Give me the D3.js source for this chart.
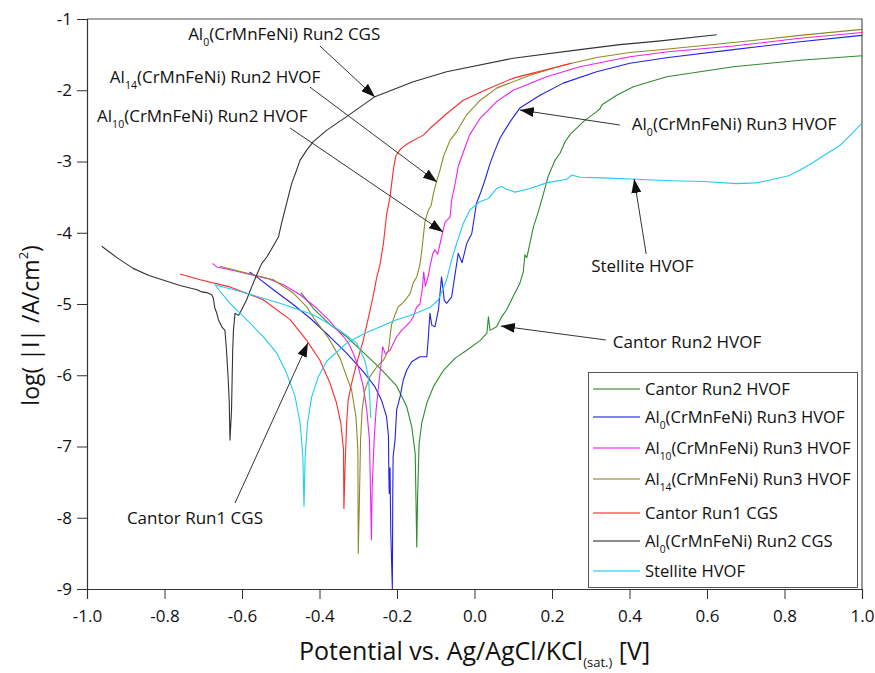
<!DOCTYPE html>
<html>
<head>
<meta charset="utf-8">
<script src="https://cdn.jsdelivr.net/npm/d3@7"></script>
<style>
  body { margin: 0; background: #fff; }
  text { font-family: "Open Sans", "DejaVu Sans", sans-serif; fill: #111; }
</style>
</head>
<body>
<script>
// potential (V vs Ag/AgCl) , log(|I|/A/cm2)

var cantorRun2HVOF = [
 [-0.448,-4.84],[-0.416,-5.06],[-0.373,-5.29],[-0.33,-5.46],[-0.287,-5.68],[-0.244,-5.90],[-0.201,-6.15],
 [-0.175,-6.44],[-0.162,-6.72],[-0.153,-7.10],[-0.149,-8.41],[-0.147,-7.75],[-0.143,-6.96],[-0.136,-6.67],
 [-0.123,-6.39],[-0.106,-6.16],[-0.08,-5.93],[-0.05,-5.76],[-0.02,-5.65],[0.015,-5.51],[0.032,-5.41],
 [0.036,-5.18],[0.04,-5.37],[0.057,-5.32],[0.07,-5.18],[0.083,-5.08],[0.1,-4.89],[0.117,-4.71],[0.126,-4.55],
 [0.13,-4.31],[0.135,-4.35],[0.152,-3.92],[0.165,-3.70],[0.178,-3.45],[0.19,-3.21],[0.208,-2.98],[0.221,-2.88],
 [0.234,-2.72],[0.247,-2.62],[0.281,-2.44],[0.315,-2.30],[0.324,-2.26],[0.328,-2.21],[0.333,-2.19],
 [0.367,-2.07],[0.41,-1.95],[0.496,-1.81],[0.668,-1.67],[0.84,-1.58],[1.0,-1.515]
];

var al0Run3HVOF = [
 [-0.581,-4.55],[-0.562,-4.62],[-0.519,-4.80],[-0.467,-5.01],[-0.424,-5.20],[-0.373,-5.46],[-0.33,-5.69],
 [-0.287,-5.95],[-0.257,-6.16],[-0.24,-6.35],[-0.227,-6.58],[-0.222,-6.86],[-0.221,-7.40],[-0.22,-7.66],
 [-0.218,-7.30],[-0.216,-8.22],[-0.212,-9.0],[-0.211,-7.75],[-0.21,-7.14],[-0.205,-6.91],[-0.201,-6.49],
 [-0.192,-6.30],[-0.184,-6.07],[-0.175,-5.93],[-0.162,-5.81],[-0.141,-5.74],[-0.123,-5.74],[-0.119,-5.46],
 [-0.115,-5.13],[-0.11,-5.30],[-0.102,-5.32],[-0.093,-5.08],[-0.085,-4.62],[-0.078,-4.95],[-0.072,-4.99],
 [-0.059,-4.90],[-0.042,-4.29],[-0.032,-4.42],[-0.02,-4.15],[-0.007,-4.01],[0.005,-3.59],[0.015,-3.45],
 [0.027,-3.26],[0.04,-3.03],[0.053,-2.84],[0.066,-2.67],[0.092,-2.44],[0.117,-2.25],[0.169,-2.07],
 [0.229,-1.90],[0.315,-1.74],[0.401,-1.62],[0.5,-1.54],[0.668,-1.43],[0.84,-1.32],[1.0,-1.23]
];

var al10Run3HVOF = [
 [-0.676,-4.43],[-0.665,-4.48],[-0.622,-4.53],[-0.536,-4.64],[-0.493,-4.73],[-0.45,-4.87],[-0.407,-5.06],
 [-0.377,-5.22],[-0.338,-5.46],[-0.325,-5.55],[-0.313,-5.69],[-0.30,-5.88],[-0.287,-6.16],[-0.278,-6.49],
 [-0.271,-6.91],[-0.266,-8.31],[-0.264,-7.56],[-0.259,-6.91],[-0.254,-6.49],[-0.246,-6.07],[-0.24,-5.79],
 [-0.237,-5.60],[-0.23,-5.70],[-0.218,-5.65],[-0.201,-5.46],[-0.188,-5.37],[-0.166,-5.25],[-0.158,-5.18],
 [-0.15,-5.05],[-0.141,-5.0],[-0.135,-4.80],[-0.131,-4.55],[-0.127,-4.75],[-0.12,-4.62],[-0.115,-4.48],
 [-0.108,-4.30],[-0.102,-4.24],[-0.095,-4.30],[-0.085,-4.06],[-0.076,-3.85],[-0.063,-3.78],[-0.059,-3.54],
 [-0.05,-3.31],[-0.042,-3.07],[-0.029,-2.87],[-0.013,-2.63],[0.015,-2.39],[0.057,-2.16],[0.1,-2.0],
 [0.186,-1.81],[0.272,-1.67],[0.401,-1.53],[0.5,-1.46],[0.668,-1.38],[0.84,-1.27],[1.0,-1.19]
];

var al14Run3HVOF = [
 [-0.657,-4.47],[-0.622,-4.52],[-0.571,-4.59],[-0.519,-4.66],[-0.467,-4.85],[-0.433,-5.04],[-0.412,-5.22],
 [-0.38,-5.45],[-0.347,-5.76],[-0.33,-6.02],[-0.317,-6.21],[-0.306,-6.58],[-0.301,-7.05],[-0.30,-8.50],
 [-0.297,-7.75],[-0.294,-6.91],[-0.29,-6.49],[-0.283,-6.21],[-0.27,-6.02],[-0.252,-5.88],[-0.235,-5.79],
 [-0.222,-5.65],[-0.218,-5.46],[-0.214,-5.29],[-0.205,-5.15],[-0.197,-5.04],[-0.188,-5.0],[-0.175,-4.92],
 [-0.166,-4.85],[-0.158,-4.70],[-0.149,-4.62],[-0.141,-4.45],[-0.136,-4.25],[-0.128,-3.85],[-0.119,-3.68],
 [-0.112,-3.62],[-0.106,-3.45],[-0.098,-3.28],[-0.089,-3.12],[-0.08,-2.93],[-0.063,-2.70],[-0.046,-2.58],
 [-0.021,-2.35],[0.015,-2.14],[0.057,-1.97],[0.143,-1.79],[0.229,-1.65],[0.315,-1.54],[0.401,-1.47],
 [0.5,-1.42],[0.668,-1.33],[0.84,-1.23],[1.0,-1.145]
];

var cantorRun1CGS = [
 [-0.76,-4.58],[-0.708,-4.66],[-0.631,-4.76],[-0.545,-4.94],[-0.476,-5.22],[-0.433,-5.51],[-0.399,-5.79],
 [-0.373,-6.11],[-0.356,-6.39],[-0.345,-6.67],[-0.338,-7.05],[-0.337,-7.87],[-0.334,-7.28],[-0.33,-6.67],
 [-0.326,-6.35],[-0.317,-6.11],[-0.304,-5.83],[-0.287,-5.51],[-0.27,-5.10],[-0.262,-4.90],[-0.252,-4.62],
 [-0.244,-4.45],[-0.235,-4.15],[-0.227,-3.75],[-0.218,-3.50],[-0.209,-3.10],[-0.203,-2.92],[-0.19,-2.82],
 [-0.17,-2.74],[-0.132,-2.63],[-0.114,-2.53],[-0.072,-2.33],[-0.029,-2.14],[0.031,-1.99],[0.1,-1.83],
 [0.143,-1.77],[0.2,-1.69],[0.25,-1.62]
];

var al0Run2CGS = [
 [-0.962,-4.19],[-0.92,-4.36],[-0.881,-4.50],[-0.84,-4.60],[-0.794,-4.68],[-0.76,-4.74],[-0.716,-4.80],
 [-0.704,-4.83],[-0.691,-4.84],[-0.678,-4.87],[-0.674,-4.92],[-0.67,-5.06],[-0.665,-5.13],[-0.661,-5.22],
 [-0.652,-5.32],[-0.644,-5.37],[-0.64,-5.65],[-0.636,-6.02],[-0.633,-6.35],[-0.631,-6.91],[-0.627,-6.49],
 [-0.624,-5.65],[-0.622,-5.37],[-0.618,-5.13],[-0.609,-5.16],[-0.601,-5.08],[-0.588,-4.94],[-0.575,-4.76],
 [-0.562,-4.59],[-0.549,-4.43],[-0.536,-4.34],[-0.523,-4.22],[-0.506,-4.06],[-0.498,-3.87],[-0.485,-3.59],
 [-0.472,-3.31],[-0.459,-3.12],[-0.45,-2.98],[-0.433,-2.84],[-0.416,-2.72],[-0.381,-2.56],[-0.33,-2.37],
 [-0.257,-2.09],[-0.158,-1.88],[-0.072,-1.74],[0.1,-1.55],[0.272,-1.43],[0.375,-1.36],[0.474,-1.31],
 [0.625,-1.22]
];

var stelliteHVOF = [
 [-0.268,-6.60],[-0.27,-6.35],[-0.274,-6.02],[-0.283,-5.79],[-0.304,-5.55],[-0.347,-5.37],[-0.416,-5.15],
 [-0.502,-4.99],[-0.588,-4.85],[-0.67,-4.73],[-0.631,-4.99],[-0.588,-5.22],[-0.545,-5.46],[-0.51,-5.69],
 [-0.485,-5.97],[-0.463,-6.30],[-0.45,-6.67],[-0.443,-7.14],[-0.44,-7.84],[-0.437,-7.14],[-0.431,-6.67],
 [-0.42,-6.30],[-0.403,-6.02],[-0.381,-5.80],[-0.33,-5.55],[-0.287,-5.42],[-0.201,-5.22],[-0.166,-5.16],
 [-0.115,-5.05],[-0.093,-4.94],[-0.072,-4.66],[-0.059,-4.38],[-0.046,-4.15],[-0.029,-3.87],[-0.012,-3.68],
 [0.015,-3.56],[0.036,-3.52],[0.057,-3.38],[0.07,-3.35],[0.083,-3.39],[0.105,-3.43],[0.143,-3.38],
 [0.186,-3.30],[0.238,-3.25],[0.251,-3.19],[0.272,-3.22],[0.331,-3.23],[0.418,-3.25],[0.506,-3.27],
 [0.593,-3.28],[0.676,-3.31],[0.724,-3.30],[0.754,-3.27],[0.811,-3.20],[0.84,-3.12],[0.872,-3.02],
 [0.9,-2.92],[0.942,-2.78],[0.97,-2.63],[1.0,-2.46]
];

var seriesNames = ["Cantor Run2 HVOF", "Al{0}(CrMnFeNi) Run3 HVOF", "Al{10}(CrMnFeNi) Run3 HVOF",
  "Al{14}(CrMnFeNi) Run3 HVOF", "Cantor Run1 CGS", "Al{0}(CrMnFeNi) Run2 CGS", "Stellite HVOF"];
var seriesData = [cantorRun2HVOF, al0Run3HVOF, al10Run3HVOF, al14Run3HVOF, cantorRun1CGS, al0Run2CGS, stelliteHVOF];
var seriesColors = ["#2e8b2e", "#2222e6", "#ee22ee", "#8c8a26", "#ff2a2a", "#333333", "#22ccee"];

var xTicks = d3.range(-10, 11, 2).map(function(i) { return i / 10; });
var yTicks = d3.range(-9, 0);

// annotations: label position, arrow tail, arrow head (data units)
var notes = [
  {text: "Al{0}(CrMnFeNi) Run2 CGS",  at: [-0.739, -1.295], from: [-0.399, -1.379], to: [-0.257, -2.095]},
  {text: "Al{14}(CrMnFeNi) Run2 HVOF", at: [-0.941, -1.898], from: [-0.425, -1.954], to: [-0.097, -3.288]},
  {text: "Al{10}(CrMnFeNi) Run2 HVOF", at: [-0.974, -2.446], from: [-0.476, -2.530], to: [-0.081, -3.989]},
  {text: "Al{0}(CrMnFeNi) Run3 HVOF",  at: [0.406, -2.558],  from: [0.375, -2.488],  to: [0.117, -2.277]},
  {text: "Stellite HVOF",             at: [0.301, -4.551],  from: [0.443, -4.298],  to: [0.412, -3.246]},
  {text: "Cantor Run2 HVOF",          at: [0.357, -5.618],  from: [0.339, -5.505],  to: [0.068, -5.309]},
  {text: "Cantor Run1 CGS",           at: [-0.897, -8.088], from: [-0.618, -7.793], to: [-0.430, -5.547]}
];

var width = 875, height = 673;
var margin = {top: 19, right: 13, bottom: 84, left: 87};
var fs = 17;

var svg = d3.select("body").append("svg")
    .attr("width", width)
    .attr("height", height);

var x = d3.scaleLinear().domain([-1, 1]).range([margin.left, width - margin.right]);
var y = d3.scaleLinear().domain([-9, -1]).range([height - margin.bottom, margin.top]);

// writes "Al{0}(..)" with the braces part as subscript
function rich(sel, str, size) {
  var parts = str.split(/(\{[^}]*\})/);
  var down = false;
  parts.forEach(function(p) {
    if (!p) return;
    if (p[0] === "{") {
      sel.append("tspan").attr("dy", size * 0.38).attr("font-size", size * 0.62).text(p.slice(1, -1));
      down = true;
    } else {
      var t = sel.append("tspan").text(p);
      if (down) { t.attr("dy", -size * 0.38); down = false; }
    }
  });
}

// frame
svg.append("path")
  .attr("d", "M" + x(-1) + "," + y(-1) + "H" + x(1) + "V" + y(-9))
  .attr("fill", "none").attr("stroke", "#555").attr("stroke-width", 1.2);

// axes
var xAxis = svg.append("g").attr("transform", "translate(0," + y(-9) + ")");
xAxis.call(d3.axisBottom(x).tickValues(d3.range(-20, 21).map(function(i) { return i / 20; }))
  .tickSize(5).tickFormat(""));
xAxis.call(d3.axisBottom(x).tickValues(xTicks).tickSize(10)
  .tickFormat(function(d) { return d.toFixed(1); }));

var yAxis = svg.append("g").attr("transform", "translate(" + x(-1) + ",0)");
yAxis.call(d3.axisLeft(y).tickValues(d3.range(-90, -9).map(function(i) { return i / 10; }))
  .tickSize(5).tickFormat(""));
yAxis.call(d3.axisLeft(y).tickValues(yTicks).tickSize(10)
  .tickFormat(function(d) { return String(d); }));

svg.selectAll(".domain").attr("stroke", "#333").attr("stroke-width", 1.2);
svg.selectAll(".tick line").attr("stroke", "#333");
svg.selectAll(".tick text").attr("font-family", "Open Sans").attr("font-size", 17).attr("fill", "#111");
xAxis.selectAll(".tick text").attr("dy", "1.2em");
yAxis.selectAll(".tick text").attr("x", -15);

// axis titles
var xt = svg.append("text")
  .attr("x", x(0)).attr("y", 660)
  .attr("text-anchor", "middle").attr("font-size", 25);
xt.append("tspan").text("Potential vs. Ag/AgCl/KCl");
xt.append("tspan").attr("font-size", 13).attr("dy", 7).text("(sat.)");
xt.append("tspan").attr("dy", -7).text(" [V]");

var yt = svg.append("text")
  .attr("transform", "translate(39," + y(-5.3) + ") rotate(-90)")
  .attr("text-anchor", "middle").attr("font-size", 23);
yt.append("tspan").text("log( |I| /A/cm");
yt.append("tspan").attr("font-size", 13).attr("dy", -11).text("2");
yt.append("tspan").attr("dy", 11).text(")");

// curves
var line = d3.line()
  .x(function(d) { return x(d[0]); })
  .y(function(d) { return y(d[1]); });

svg.append("defs").append("clipPath").attr("id", "plot")
  .append("rect").attr("x", x(-1)).attr("y", y(-1))
  .attr("width", x(1) - x(-1)).attr("height", y(-9) - y(-1));

svg.append("g").attr("clip-path", "url(#plot)")
  .selectAll("path")
  .data(seriesData)
  .enter().append("path")
    .attr("d", line)
    .attr("fill", "none")
    .attr("stroke", function(d, i) { return seriesColors[i]; })
    .attr("stroke-width", 1.1)
    .attr("stroke-linejoin", "round");

// annotation arrows
svg.select("defs").append("marker")
  .attr("id", "head")
  .attr("markerUnits", "userSpaceOnUse")
  .attr("viewBox", "0 0 14 10")
  .attr("refX", 14).attr("refY", 5)
  .attr("markerWidth", 14).attr("markerHeight", 10)
  .attr("orient", "auto")
  .append("path").attr("d", "M0,0L14,5L0,10Z").attr("fill", "#111");

var ann = svg.append("g");
ann.selectAll("line")
  .data(notes)
  .enter().append("line")
    .attr("x1", function(d) { return x(d.from[0]); })
    .attr("y1", function(d) { return y(d.from[1]); })
    .attr("x2", function(d) { return x(d.to[0]); })
    .attr("y2", function(d) { return y(d.to[1]); })
    .attr("stroke", "#333").attr("stroke-width", 1)
    .attr("marker-end", "url(#head)");

notes.forEach(function(n) {
  var t = ann.append("text").attr("x", x(n.at[0])).attr("y", y(n.at[1])).attr("font-size", fs);
  rich(t, n.text, fs);
});

// legend
var lg = svg.append("g");
lg.append("rect")
  .attr("x", 588.5).attr("y", 372.5).attr("width", 269).attr("height", 215)
  .attr("fill", "#fff").attr("stroke", "#555").attr("stroke-width", 1);
var rowY = [389, 417, 448, 479, 513, 541, 571];
seriesNames.forEach(function(name, i) {
  lg.append("line")
    .attr("x1", 593).attr("x2", 640).attr("y1", rowY[i]).attr("y2", rowY[i])
    .attr("stroke", seriesColors[i]).attr("stroke-width", 1.4).attr("stroke-opacity", 0.75);
  var t = lg.append("text").attr("x", 645).attr("y", rowY[i] + 6).attr("font-size", 16.6);
  rich(t, name, 16.6);
});
</script>
</body>
</html>
